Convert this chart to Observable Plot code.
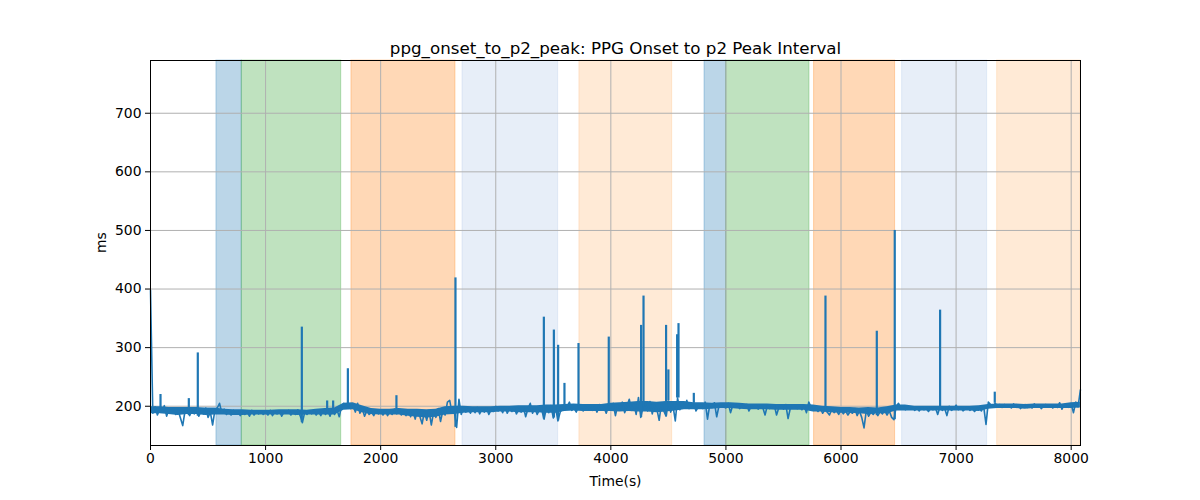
<!DOCTYPE html>
<html><head><meta charset="utf-8">
<script src="https://cdn.jsdelivr.net/npm/d3@7"></script>
<script src="https://cdn.jsdelivr.net/npm/@observablehq/plot@0.6"></script>
<style>body{margin:0;background:#fff;}</style>
</head><body><div id="chart"></div>
<script>
const chartTitle = "ppg_onset_to_p2_peak: PPG Onset to p2 Peak Interval";
const xLabel = "Time(s)";
const yLabel = "ms";
const xTicks = [0, 1000, 2000, 3000, 4000, 5000, 6000, 7000, 8000];
const yTicks = [200, 300, 400, 500, 600, 700];

// baseline samples every 20 s from t = 0
const sampleStep = 20;
const baseline = [
  398, 188, 199, 185, 195, 190, 201, 183, 195, 190,
  197, 186, 193, 180, 167, 192, 196, 184, 193, 187,
  195, 183, 192, 187, 197, 181, 190, 168, 194, 197,
  205, 188, 195, 186, 192, 185, 193, 187, 191, 184,
  192, 186, 190, 183, 193, 185, 191, 187, 192, 186,
  190, 185, 193, 184, 191, 187, 192, 183, 190, 188,
  193, 185, 191, 186, 194, 184, 172, 190, 186, 192,
  187, 193, 185, 191, 184, 194, 186, 192, 183, 195,
  186, 194, 182, 200, 205, 198, 203, 196, 201, 190,
  205, 188, 196, 183, 192, 186, 190, 184, 193, 187,
  191, 185, 193, 184, 190, 186, 195, 187, 192, 185,
  190, 184, 193, 182, 192, 178, 194, 183, 170, 191,
  176, 193, 168, 190, 181, 196, 174, 192, 185, 207,
  210, 188, 190, 164, 212, 186, 197, 190, 196, 188,
  196, 189, 198, 187, 195, 190, 197, 186, 194, 191,
  200, 192, 197, 189, 199, 188, 196, 191, 198, 187,
  195, 190, 199, 182, 196, 205, 188, 197, 186, 194,
  193, 178, 197, 189, 201, 180, 198, 175, 190, 196,
  194, 199, 207, 193, 197, 190, 201, 196, 192, 199,
  196, 201, 193, 199, 190, 203, 195, 198, 188, 200,
  197, 205, 184, 202, 196, 207, 189, 200, 212, 193,
  204, 186, 215, 181, 199, 206, 192, 208, 187, 201,
  195, 176, 205, 192, 183, 209, 190, 201, 175, 214,
  194, 206, 198, 210, 196, 202, 205, 192, 199, 203,
  196, 207, 178, 203, 198, 206, 182, 201, 204, 199,
  197, 205, 189, 202, 199, 204, 196, 201, 198, 203,
  192, 200, 197, 202, 195, 200, 198, 185, 201, 196,
  199, 202, 185, 198, 201, 195, 203, 179, 197, 200,
  202, 196, 199, 194, 200, 189, 207, 198, 193, 196,
  191, 197, 188, 194, 190, 185, 195, 189, 193, 186,
  194, 187, 192, 185, 191, 188, 196, 184, 192, 181,
  163, 193, 183, 190, 186, 192, 184, 191, 187, 193,
  185, 192, 181, 177, 200, 205, 196, 199, 194, 198,
  195, 199, 193, 197, 192, 198, 194, 196, 191, 197,
  194, 198, 186, 199, 193, 197, 184, 200, 193, 196,
  202, 194, 198, 192, 196, 199, 193, 197, 191, 195,
  197, 192, 199, 169, 207, 203, 199, 205, 200, 203,
  198, 203, 199, 201, 197, 204, 199, 202, 196, 201,
  203, 198, 201, 197, 204, 199, 202, 196, 200, 203,
  199, 202, 197, 201, 198, 206, 195, 203, 200, 198,
  204, 189, 207, 199, 228
];

// dense-noise envelope (min / max of the signal) every 80 s from t = 0
const bandStep = 80;
const bandLow = [
  187, 187, 186, 184, 186, 186, 184, 185, 185, 184,
  184, 185, 185, 185, 185, 185, 184, 185, 185, 185,
  185, 193, 194, 189, 186, 185, 185, 185, 183, 181,
  180, 181, 185, 186, 188, 189, 189, 189, 190, 190,
  189, 189, 189, 188, 188, 191, 192, 191, 191, 191,
  191, 190, 191, 190, 190, 189, 190, 192, 194, 194,
  194, 195, 196, 196, 195, 194, 194, 194, 193, 193,
  193, 193, 190, 190, 189, 188, 188, 187, 186, 187,
  187, 192, 192, 192, 192, 192, 192, 192, 192, 192,
  191, 195, 196, 196, 196, 195, 196, 196, 196, 196,
  196, 197
];
const bandHigh = [
  199, 199, 198, 198, 198, 198, 197, 197, 195, 194,
  194, 193, 193, 193, 194, 194, 194, 193, 195, 196,
  197, 205, 206, 201, 196, 195, 195, 196, 195, 195,
  194, 195, 199, 200, 200, 199, 199, 199, 200, 200,
  201, 201, 201, 202, 202, 203, 204, 203, 203, 203,
  205, 206, 207, 208, 208, 207, 208, 208, 208, 206,
  206, 205, 206, 206, 205, 204, 204, 204, 203, 203,
  203, 203, 202, 200, 199, 198, 198, 197, 198, 197,
  199, 202, 202, 200, 200, 200, 200, 200, 200, 200,
  201, 203, 204, 204, 204, 203, 204, 204, 204, 204,
  206, 207
];

const spikeTimes  = [87, 333, 411, 1315, 1535, 1587, 1715, 2137, 2650, 3418, 3505, 3542, 3597, 3719, 3982, 4263, 4284, 4480, 4500, 4576, 4588, 4721, 5865, 6311, 6467, 6861, 7336];
const spikeValues = [220, 213, 291, 335, 209, 209, 264, 218, 419, 352, 330, 304, 239, 307, 318, 338, 388, 338, 262, 322, 341, 222, 388, 328, 500, 364, 224];

const phaseStart = [573, 793, 1746, 2711, 3727, 4814, 5002, 5766, 6531, 7357];
const phaseEnd   = [793, 1657, 2650, 3542, 4533, 5002, 5726, 6470, 7270, 8081];
const phaseKind  = ["A", "B", "C", "D", "E", "A", "B", "C", "D", "E"];

const series = baseline.map((v, i) => ({t: i * sampleStep, v}));
const band = bandLow.map((lo, i) => ({t: i * bandStep, lo, hi: bandHigh[i]}));
const spikes = spikeTimes.map((t, i) => ({t, base: baseline[Math.round(t / sampleStep)], v: spikeValues[i]}));
const phases = phaseStart.map((s, i) => ({s, e: phaseEnd[i], k: phaseKind[i]}));

const chart = Plot.plot({
  width: 1200,
  height: 500,
  marginLeft: 150,
  marginRight: 120,
  marginTop: 60,
  marginBottom: 55,
  style: {background: "white", color: "black", fontFamily: "DejaVu Sans", fontSize: "13.9px"},
  x: {domain: [0, 8081]},
  y: {domain: [133, 790]},
  color: {type: "ordinal", domain: ["A", "B", "C", "D", "E"], range: ["#1f77b4", "#2ca02c", "#ff7f0e", "#aec7e8", "#ffbb78"]},
  marks: [
    Plot.rect(phases, {x1: "s", x2: "e", fill: "k", fillOpacity: 0.3, stroke: "k", strokeOpacity: 0.3, strokeWidth: 1}),
    Plot.gridX(xTicks, {stroke: "#b0b0b0", strokeOpacity: 1, strokeWidth: 1}),
    Plot.gridY(yTicks, {stroke: "#b0b0b0", strokeOpacity: 1, strokeWidth: 1}),
    Plot.areaY(band, {x: "t", y1: "lo", y2: "hi", fill: "#1f77b4"}),
    Plot.line(series, {x: "t", y: "v", stroke: "#1f77b4", strokeWidth: 1.6}),
    Plot.ruleX(spikes, {x: "t", y1: "base", y2: "v", stroke: "#1f77b4", strokeWidth: 2.2}),
    Plot.frame({stroke: "black", strokeWidth: 1}),
    Plot.axisX(xTicks, {tickSize: 5, tickPadding: 3, label: null, fontSize: 13.9, tickFormat: d => String(d)}),
    Plot.axisY(yTicks, {tickSize: 5, tickPadding: 4, label: null, fontSize: 13.9, tickFormat: d => String(d)}),
    Plot.text([chartTitle], {frameAnchor: "top", lineAnchor: "bottom", dy: -7, fontSize: 16.7}),
    Plot.text([xLabel], {frameAnchor: "bottom", lineAnchor: "middle", dy: 36, fontSize: 13.9}),
    Plot.text([yLabel], {frameAnchor: "left", rotate: -90, dx: -49, fontSize: 13.9})
  ]
});
document.getElementById("chart").appendChild(chart);
</script>
</body></html>
